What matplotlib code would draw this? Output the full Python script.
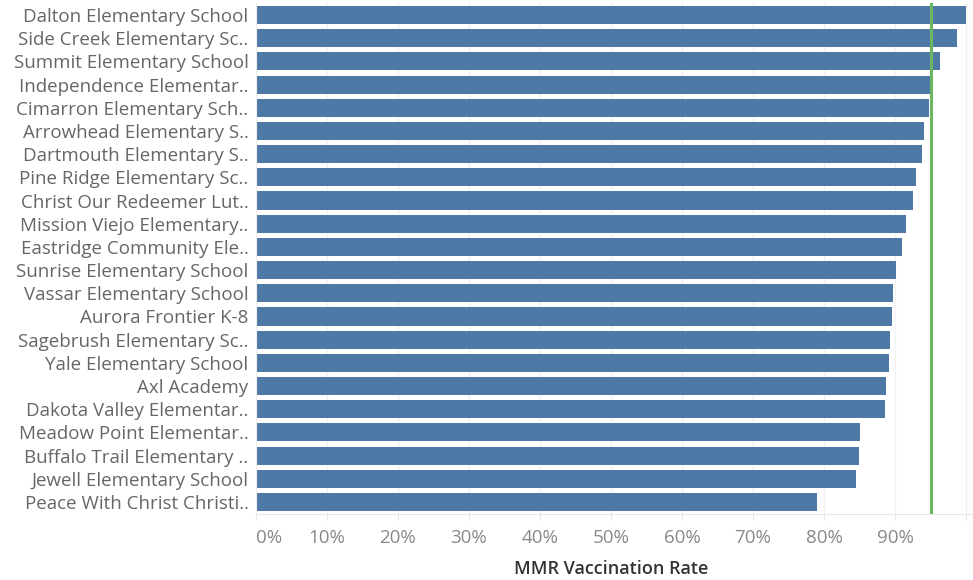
import matplotlib
matplotlib.use("Agg")
import matplotlib.pyplot as plt
from matplotlib.ticker import FixedLocator

# School names as shown (truncated labels kept), top to bottom
schools = [
    "Dalton Elementary School",
    "Side Creek Elementary Sc..",
    "Summit Elementary School",
    "Independence Elementar..",
    "Cimarron Elementary Sch..",
    "Arrowhead Elementary S..",
    "Dartmouth Elementary S..",
    "Pine Ridge Elementary Sc..",
    "Christ Our Redeemer Lut..",
    "Mission Viejo Elementary..",
    "Eastridge Community Ele..",
    "Sunrise Elementary School",
    "Vassar Elementary School",
    "Aurora Frontier K-8",
    "Sagebrush Elementary Sc..",
    "Yale Elementary School",
    "Axl Academy",
    "Dakota Valley Elementar..",
    "Meadow Point Elementar..",
    "Buffalo Trail Elementary ..",
    "Jewell Elementary School",
    "Peace With Christ Christi..",
]
mmr_rate = [
    1.000, 0.987, 0.963, 0.953, 0.948, 0.941, 0.938, 0.929, 0.925, 0.915, 0.910,
    0.901, 0.897, 0.896, 0.893, 0.892, 0.887, 0.886, 0.851, 0.849, 0.845, 0.790,
]
target_rate = 0.95
tick_values = [0, 0.1, 0.2, 0.3, 0.4, 0.5, 0.6, 0.7, 0.8, 0.9]
tick_labels = ["0%", "10%", "20%", "30%", "40%", "50%", "60%", "70%", "80%", "90%"]

plt.rcParams["font.family"] = ["Open Sans", "DejaVu Sans"]

fig = plt.figure(figsize=(9.73, 5.80), dpi=100)
ax = fig.add_axes([0.2626, 0.1145, 0.7374, 0.8796])

y = list(range(len(schools)))
ax.barh(y, mmr_rate, height=0.78, color="#4e79a7", zorder=2)
ax.axvline(target_rate, color="#6bb760", linewidth=2.2, zorder=3)

ax.set_ylim(len(schools) - 0.5, -0.5)
ax.set_xlim(0, 1.0096)

# light vertical gridlines, including 100%
for v in tick_values + [1.0]:
    ax.axvline(v, color="#f0f0f0", linewidth=1, zorder=1)

ax.set_yticks(y)
ax.set_yticklabels(schools, fontsize=13.5, color="#666666")
ax.tick_params(axis="y", length=0, pad=5)

ax.xaxis.set_major_locator(FixedLocator(tick_values + [1.0]))
ax.set_xticklabels(tick_labels + [""], fontsize=13.5, color="#888888")
ax.tick_params(axis="x", length=4, color="#e6e6e6", pad=7)
ax.get_xticklabels()[0].set_horizontalalignment("left")

for side in ["top", "right"]:
    ax.spines[side].set_visible(False)
ax.spines["left"].set_color("#eeeeee")
ax.spines["bottom"].set_color("#e6e6e6")

fig.text(0.628, (580 - 569) / 580, "MMR Vaccination Rate", ha="center", va="center",
         fontsize=13, fontweight="semibold", color="#333333")

fig.savefig("out.png", dpi=100)
